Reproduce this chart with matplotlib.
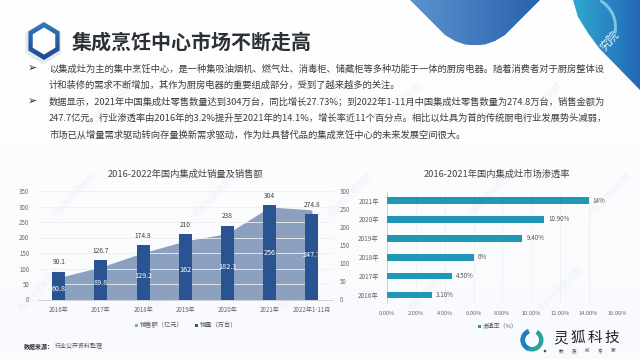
import numpy as np
import matplotlib
matplotlib.use("Agg")
import matplotlib.pyplot as plt
from matplotlib.patches import Polygon, Circle, Wedge

plt.rcParams['font.family'] = ['Noto Sans CJK SC', 'DejaVu Sans']

title = "集成烹饪中心市场不断走高"
body_lines = [
    "以集成灶为主的集中烹饪中心，是一种集吸油烟机、燃气灶、消毒柜、储藏柜等多种功能于一体的厨房电器。随着消费者对于厨房整体设",
    "计和装修的需求不断增加，其作为厨房电器的重要组成部分，受到了越来越多的关注。",
    "数据显示，2021年中国集成灶零售数量达到304万台，同比增长27.73%；到2022年1-11月中国集成灶零售数量为274.8万台，销售金额为",
    "247.7亿元。行业渗透率由2016年的3.2%提升至2021年的14.1%，增长率近11个百分点。相比以灶具为首的传统厨电行业发展势头减弱，",
    "市场已从增量需求驱动转向存量换新需求驱动，作为灶具替代品的集成烹饪中心的未来发展空间很大。",
]

years = ["2016年", "2017年", "2018年", "2019年", "2020年", "2021年", "2022年1-11月"]
volume = [90.1, 126.7, 174.8, 210, 238, 304, 274.8]
revenue = [60.8, 89.8, 129.2, 162, 182.3, 256, 247.7]
volume_labels = ["90.1", "126.7", "174.8", "210", "238", "304", "274.8"]
revenue_labels = ["60.8", "89.8", "129.2", "162", "182.3", "256", "247.7"]

rate_years = ["2016年", "2017年", "2018年", "2019年", "2020年", "2021年"]
rate = [3.1, 4.5, 6, 9.4, 10.9, 14]
rate_labels = ["3.10%", "4.50%", "6%", "9.40%", "10.90%", "14%"]
rate_ticks = [0, 2, 4, 6, 8, 10, 12, 14, 16]

W, H = 640, 359
fig = plt.figure(figsize=(W / 100, H / 100), dpi=100, facecolor="white")


def px_axes(x0, y0, x1, y1, **kw):
    # pixel box, y counted from the top of the picture
    return fig.add_axes([x0 / W, 1 - y1 / H, (x1 - x0) / W, (y1 - y0) / H], **kw)


bg = px_axes(0, 0, W, H)
bg.axis("off")


def gradient(ax, box, c0, c1, clip=None, horizontal=True, z=2):
    x0, x1, y0, y1 = box
    t = np.linspace(0, 1, 64)
    t = t[None, :] if horizontal else t[:, None]
    c0, c1 = np.array(matplotlib.colors.to_rgb(c0)), np.array(matplotlib.colors.to_rgb(c1))
    img = c0[None, None, :] * (1 - t[..., None]) + c1[None, None, :] * t[..., None]
    im = ax.imshow(img, extent=(x0, x1, y1, y0), aspect="auto", zorder=z)
    if clip is not None:
        im.set_clip_path(clip)
    ax.set_xlim(0, W)
    ax.set_ylim(H, 0)


gradient(bg, (0, W, 0, H), "#ffffff", "#f8fafd", horizontal=False, z=0)

# faint watermark
for wx, wy in [(75, 195), (215, 195), (350, 195), (490, 195), (610, 195),
               (40, 290), (170, 290), (300, 290), (430, 290), (560, 290),
               (110, 105), (250, 105), (400, 105), (540, 105)]:
    bg.text(wx, wy, "灵狐科技研究院", fontsize=6, color="#eef1f6", rotation=45,
            ha="center", va="center", zorder=1)

# top decoration
tri = Polygon([(410, 0), (445, 35), (455, 41), (465, 44.5), (475, 45.5), (485, 44.5),
               (495, 41), (505, 35), (540, 0)],
              closed=True, transform=bg.transData, fc="none", ec="none")
bg.add_patch(tri)
gradient(bg, (410, 540, 0, 45), "#5b93cf", "#2a61ae", tri)

corner = Polygon([(573, 0), (640, 0), (640, 90), (599, 48), (588, 33), (578, 17)],
                 closed=True, transform=bg.transData, fc="none", ec="none")
bg.add_patch(corner)
gradient(bg, (573, 640, 0, 90), "#2fa8cf", "#2468b8", corner)
bg.add_patch(Wedge((585, 27), 32, -60, 12, width=3, fc="#7cc4e0", ec="none", zorder=3))
bg.text(609, 41, "究院", fontsize=8, color="#e8f4fa", rotation=48, ha="center", va="center", zorder=4)

# hexagon icon
ang = np.deg2rad(np.arange(90, 450, 60))
hex_x = 44 + 18 * np.cos(ang)
hex_y = 41 - 19 * np.sin(ang)
bg.add_patch(Polygon(np.c_[hex_x - 1, hex_y + 2], fc="#dfe3ea", ec="#e6e9ef", lw=3, joinstyle="round", zorder=1))
outer = Polygon(np.c_[hex_x, hex_y], fc="none", ec="none", transform=bg.transData)
bg.add_patch(outer)
gradient(bg, (26, 62, 22, 60), "#2f79bd", "#1d4a8d", outer, horizontal=False)
bg.add_patch(Polygon(np.c_[44 + 13 * np.cos(ang), 41 - 13.5 * np.sin(ang)], fc="white", ec="none", zorder=3))

bg.text(71.5, 42, title, fontsize=14.4, fontweight="bold", color="#2b2f36", va="center", ha="left", zorder=4)

# body text
line_y = [69, 85, 102, 118, 135]
for y, line in zip(line_y, body_lines):
    bg.text(49, y, line, fontsize=6.7, color="#3c3c3c", va="center", ha="left", zorder=4)
for y in (68, 101):
    bg.text(32, y, "➢", fontsize=8, color="#222222", va="center", ha="center",
            family=["DejaVu Sans"], zorder=4)

# left chart
ax = px_axes(37.6, 191, 333, 299.5)
ax2 = ax.twinx()
x = np.arange(len(years))
ax.set_zorder(2)
ax2.set_zorder(1)
ax.patch.set_visible(False)
ax2.patch.set_visible(False)
ax2.fill_between(x, revenue, 0, color="#8ca0c0", lw=0)
ax.bar(x, volume, width=0.31, color="#2a5391", zorder=3)
ax.set_xlim(-0.5, 6.5)
ax.set_ylim(0, 350)
ax2.set_ylim(0, 300)
ax.set_yticks(range(0, 351, 50))
ax2.set_yticks(range(0, 301, 50))
ax.set_xticks(x)
ax.set_xticklabels(years)
ax.tick_params(axis="x", length=0, labelsize=4.4, labelcolor="#666666", pad=5)
ax.tick_params(axis="y", length=0, labelsize=4.4, labelcolor="#666666", pad=6)
ax2.tick_params(axis="y", length=0, labelsize=4.4, labelcolor="#666666", pad=5)
ax.grid(axis="y", color="#edf0f4", lw=0.6)
ax.set_axisbelow(True)
for spine in list(ax.spines.values()) + list(ax2.spines.values()):
    spine.set_visible(False)
ax.spines["bottom"].set_visible(True)
ax.spines["bottom"].set_color("#c8ccd2")
ax.spines["bottom"].set_linewidth(0.6)
for xi, v, vl, r, rl in zip(x, volume, volume_labels, revenue, revenue_labels):
    ax.text(xi, v + 18, vl, ha="center", va="bottom", fontsize=4.8, color="#444444", zorder=5)
    ax.text(xi, r * 350 / 300 / 2, rl, ha="center", va="center", fontsize=5.2, color="white", zorder=5)

bg.text(185.5, 174, "2016-2022年国内集成灶销量及销售额", fontsize=6.7, color="#444444", ha="center", va="center", zorder=4)
bg.add_patch(Polygon([(135, 324), (137.5, 324), (137.5, 326.5), (135, 326.5)], fc="#8ca0c0", ec="none", zorder=4))
bg.text(139.5, 325, "销售额（亿元）", fontsize=4.5, color="#555555", ha="left", va="center", zorder=4)
bg.add_patch(Polygon([(195, 324), (197.5, 324), (197.5, 326.5), (195, 326.5)], fc="#2a5391", ec="none", zorder=4))
bg.text(199.5, 325, "销量（万台）", fontsize=4.5, color="#555555", ha="left", va="center", zorder=4)
bg.text(24, 346, "数据来源：", fontsize=4.3, color="#333333", fontweight="bold", style="italic", ha="left", va="center", zorder=4)
bg.text(55, 346, "行业公开资料整理", fontsize=4.3, color="#555555", style="italic", ha="left", va="center", zorder=4)

# right chart
axr = px_axes(387.3, 192, 617.3, 302.7)
axr.barh(rate_years, rate, height=0.35, color="#1f97b5", zorder=3)
axr.set_xlim(0, 16)
axr.set_ylim(-0.407, 5.45)
axr.set_xticks(rate_ticks)
axr.set_xticklabels([f"{t:.2f}%" for t in rate_ticks])
axr.tick_params(axis="y", length=0, labelsize=4.6, labelcolor="#666666", pad=6)
axr.tick_params(axis="x", length=0, labelsize=4.1, labelcolor="#666666", pad=6)
axr.grid(axis="x", color="#edf0f4", lw=0.6)
axr.set_axisbelow(True)
axr.patch.set_visible(False)
for spine in axr.spines.values():
    spine.set_visible(False)
axr.spines["left"].set_visible(True)
axr.spines["left"].set_color("#c8ccd2")
axr.spines["left"].set_linewidth(0.6)
for i, (v, lab) in enumerate(zip(rate, rate_labels)):
    axr.text(v + 0.3, i, lab, va="center", ha="left", fontsize=4.5, color="#555555", zorder=5)

bg.text(496.5, 174, "2016-2021年国内集成灶市场渗透率", fontsize=6.7, color="#444444", ha="center", va="center", zorder=4)
bg.add_patch(Polygon([(478, 325), (480.5, 325), (480.5, 327.5), (478, 327.5)], fc="#1f97b5", ec="none", zorder=4))
bg.text(482.5, 325.7, "渗透率（%）", fontsize=4.2, color="#555555", ha="left", va="center", zorder=4)

# logo
bg.add_patch(Wedge((532, 340), 11.5, -60, 250, width=4.5, fc="#27a59c", ec="none", zorder=4))
bg.add_patch(Wedge((532, 340), 11.5, 110, 250, width=4.5, fc="#1f7fc0", ec="none", zorder=5))
bg.add_patch(Circle((545, 351), 1.3, fc="#1d5d8f", ec="none", zorder=5))
for xt, ch in zip([561, 578, 595, 612], "灵狐科技"):
    bg.text(xt, 338, ch, fontsize=10.5, color="#222222", ha="center", va="center", zorder=5)
for xt, ch in zip([561, 574, 587, 600, 613], "数质核专家"):
    bg.text(xt, 351, ch, fontsize=3.4, color="#444444", ha="center", va="center", zorder=5)

fig.savefig("out.png", dpi=100, facecolor=fig.get_facecolor())
